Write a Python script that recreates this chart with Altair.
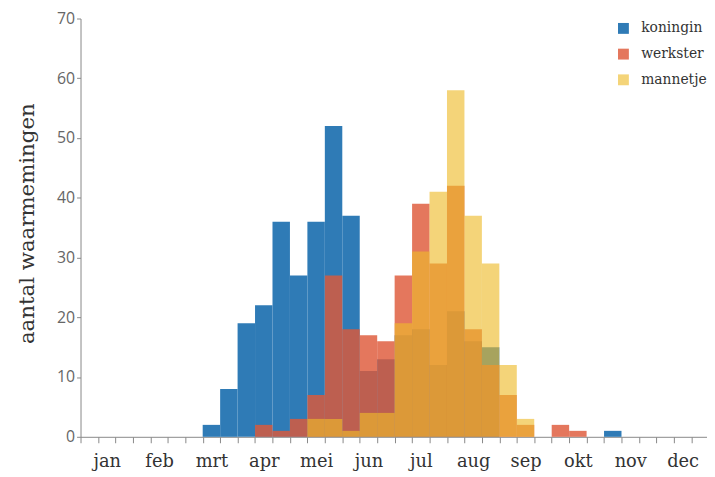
import json
import altair as alt
import pandas as pd

months = ["jan", "feb", "mrt", "apr", "mei", "jun", "jul", "aug", "sep", "okt", "nov", "dec"]
series = ["koningin", "werkster", "mannetje"]

# counts per decade (36 ten-day periods, 3 per month)
koningin = [0, 0, 0, 0, 0, 0, 0, 2, 8, 19, 22, 36, 27, 36, 52, 37, 11, 13,
            17, 18, 12, 21, 16, 15, 0, 0, 0, 0, 0, 0, 1, 0, 0, 0, 0, 0]
werkster = [0, 0, 0, 0, 0, 0, 0, 0, 0, 0, 2, 1, 3, 7, 27, 18, 17, 16,
            27, 39, 29, 42, 18, 12, 7, 2, 0, 2, 1, 0, 0, 0, 0, 0, 0, 0]
mannetje = [0, 0, 0, 0, 0, 0, 0, 0, 0, 0, 0, 0, 0, 3, 3, 1, 4, 4,
            19, 31, 41, 58, 37, 29, 12, 3, 0, 0, 0, 0, 0, 0, 0, 0, 0, 0]

colors = ["#2f7bb6", "#de5838", "#edbb2b"]
opacities = [1.0, 0.63, 0.6]

rows = []
for name, vals in zip(series, [koningin, werkster, mannetje]):
    for i, v in enumerate(vals):
        if v > 0:
            rows.append({"serie": name, "start": i, "end": i + 1, "value": v, "base": 0})
df = pd.DataFrame(rows)

month_expr = json.dumps(months)
label_expr = f"datum.value % 3 == 0 ? {month_expr}[datum.value / 3] : ''"

legend = alt.Legend(
    title=None, orient="none", legendX=542, legendY=3,
    symbolType="square", symbolSize=121, symbolStrokeWidth=0,
    labelFont="DejaVu Serif", labelFontSize=14, labelColor="#333333",
    rowPadding=12, labelOffset=11,
)

chart = alt.Chart(df).mark_bar().encode(
    x=alt.X(
        "start:Q",
        scale=alt.Scale(domain=[0, 35.9], nice=False, zero=False),
        axis=alt.Axis(
            values=list(range(0, 36)), labelExpr=label_expr, labelOffset=26.5,
            tickSize=6, domainColor="#888888", tickColor="#888888",
            labelFont="DejaVu Serif", labelFontSize=18, labelColor="#333333",
            labelPadding=10, labelOverlap=False, labelFlush=False, labelBound=False,
            grid=False, title=None,
        ),
    ),
    x2="end:Q",
    y=alt.Y(
        "value:Q", stack=None,
        scale=alt.Scale(domain=[0, 70], nice=False),
        axis=alt.Axis(
            values=list(range(0, 71, 10)), tickSize=4,
            domainColor="#888888", tickColor="#888888",
            labelFont="Open Sans", labelFontSize=16, labelColor="#666666",
            labelPadding=2, grid=False,
            title="aantal waarmemingen", titleFont="DejaVu Serif",
            titleFontSize=21.5, titleFontWeight="normal", titleColor="#333333",
            titlePadding=18, titleY=207,
        ),
    ),
    y2="base:Q",
    color=alt.Color("serie:N", scale=alt.Scale(domain=series, range=colors), legend=legend),
    opacity=alt.Opacity("serie:N", scale=alt.Scale(domain=series, range=opacities), legend=legend),
).properties(
    width=633.5, height=423,
    autosize=alt.AutoSizeParams(type="none"),
    padding={"left": 73.35, "top": 8, "right": 0, "bottom": 38},
).configure_view(stroke=None)

chart.save("out.html", embed_options={"renderer": "svg", "actions": False})
